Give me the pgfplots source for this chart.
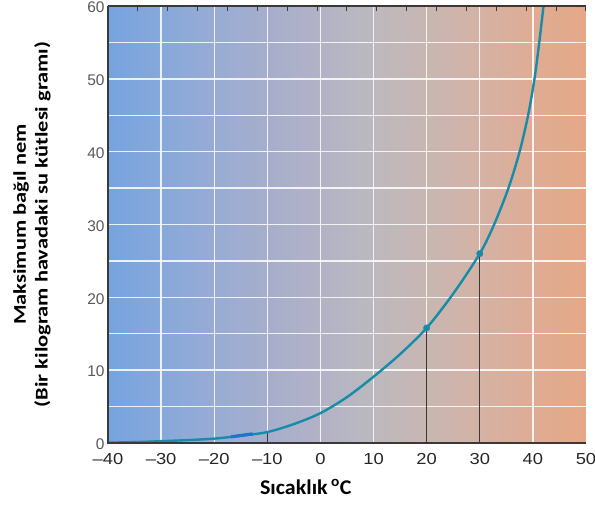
\documentclass[border=0pt]{standalone}
\usepackage{pgfplots}
\pgfplotsset{compat=1.18}
\usepackage{fontspec}
\setmainfont{Liberation Sans}
\newfontfamily\xtickfont[FakeStretch=1.15]{Liberation Sans}
\newfontfamily\xlabfont[FakeStretch=1.05]{Carlito}
\newfontfamily\ylabfont[FakeStretch=1.25]{Carlito}

% background colours, left (-40) to right (50)
\definecolor{bg0}{RGB}{118,163,222}
\definecolor{bg1}{RGB}{135,168,218}
\definecolor{bg2}{RGB}{152,172,212}
\definecolor{bg3}{RGB}{166,174,204}
\definecolor{bg4}{RGB}{178,178,198}
\definecolor{bg5}{RGB}{188,185,190}
\definecolor{bg6}{RGB}{200,182,178}
\definecolor{bg7}{RGB}{212,178,165}
\definecolor{bg8}{RGB}{222,172,148}
\definecolor{bg9}{RGB}{228,168,135}
\definecolor{curve}{RGB}{22,140,168}
\definecolor{frame}{RGB}{60,56,56}

\pgfdeclarehorizontalshading{bgshade}{100bp}{%
  color(0bp)=(bg0); color(25bp)=(bg0); color(30.56bp)=(bg1);
  color(36.11bp)=(bg2); color(41.67bp)=(bg3); color(47.22bp)=(bg4);
  color(52.78bp)=(bg5); color(58.33bp)=(bg6); color(63.89bp)=(bg7);
  color(69.44bp)=(bg8); color(75bp)=(bg9); color(100bp)=(bg9)}

\begin{document}
\begin{tikzpicture}
\path[use as bounding box] (-108bp,-62bp) rectangle (487bp,443bp);
\begin{axis}[
    at={(0,0)}, anchor=south west,
    width=478bp, height=437bp, scale only axis,
    xmin=-40, xmax=50, ymin=0, ymax=60,
    axis line style={draw=none},
    axis background/.style={shade, shading=bgshade},
    xtick={-40,-30,...,50},
    xticklabels={–40,–30,–20,–10,0,10,20,30,40,50},
    ytick={0,10,...,60},
    yticklabels={0,10,20,30,40,50,60},
    minor xtick={-30,-20,...,40},
    minor ytick={5,10,...,55},
    xminorgrids, yminorgrids,
    minor grid style={white, line width=1.4bp, opacity=0.85},
    major tick length=0pt, minor tick length=0pt,
    xticklabel style={font=\xtickfont\fontsize{16}{16}\selectfont, text=black!85, yshift=-7bp},
    yticklabel style={font=\fontsize{15.5}{16}\selectfont, text=black!65, yshift=-1.5bp},
    clip=false,
]
% drop lines
\addplot[frame, line width=1.3bp] coordinates {(20,0) (20,15.8)};
\addplot[frame, line width=1.3bp] coordinates {(30,0) (30,26)};
\addplot[frame, line width=1.3bp] coordinates {(-10,0) (-10,1.5)};

% saturation curve
\addplot[curve, line width=2.4bp, smooth] coordinates {
    (-40,0.05) (-35,0.12) (-30,0.25) (-25,0.4) (-20,0.6) (-15,1.0)
    (-10,1.5) (-5,2.6) (0,4.1) (5,6.3) (10,9.1) (15,12.2) (20,15.8)
    (25,20.5) (30,26) (32.7,30) (35.4,35) (37.5,40) (39.1,45)
    (40.3,50) (41.2,55) (42.0,60)
};
\addplot[color={rgb,255:red,30;green,115;blue,205}, line width=3.2bp] coordinates {(-16.8,0.85) (-12.8,1.25)};
\addplot[only marks, mark=*, mark size=3.2bp, curve] coordinates {(20,15.8) (30,26)};

% frame: left, bottom, top with small ticks along the top
\draw[frame, line width=1.2bp] (axis cs:-40,60) -- (axis cs:-40,0) -- (axis cs:50,0);
\draw[frame, line width=1.2bp] (axis cs:-40,60) -- (axis cs:50,60);
\draw[frame, line width=1bp]
  (axis cs:-34.375,60) -- (axis cs:-34.375,59.3) (axis cs:-28.75,60) -- (axis cs:-28.75,59.3)
  (axis cs:-23.125,60) -- (axis cs:-23.125,59.3) (axis cs:-17.5,60) -- (axis cs:-17.5,59.3)
  (axis cs:-11.875,60) -- (axis cs:-11.875,59.3) (axis cs:-6.25,60) -- (axis cs:-6.25,59.3)
  (axis cs:-0.625,60) -- (axis cs:-0.625,59.3) (axis cs:5,60) -- (axis cs:5,59.3)
  (axis cs:10.625,60) -- (axis cs:10.625,59.3) (axis cs:16.25,60) -- (axis cs:16.25,59.3)
  (axis cs:21.875,60) -- (axis cs:21.875,59.3) (axis cs:27.5,60) -- (axis cs:27.5,59.3)
  (axis cs:33.125,60) -- (axis cs:33.125,59.3) (axis cs:38.75,60) -- (axis cs:38.75,59.3)
  (axis cs:44.375,60) -- (axis cs:44.375,59.3) (axis cs:50,60) -- (axis cs:50,59.3);

\node[font=\xlabfont\bfseries\fontsize{21}{21}\selectfont, anchor=base west, inner sep=0pt]
  at ([yshift=-51bp]axis cs:-11.4,0) {Sıcaklık\,\textsuperscript{o}C};
\node[font=\ylabfont\bfseries\fontsize{18}{22}\selectfont, rotate=90, align=center]
  at ([xshift=-76bp]rel axis cs:0,0.5) {Maksimum bağıl nem\\(Bir kilogram havadaki su kütlesi gramı)};
\end{axis}
\end{tikzpicture}
\end{document}
